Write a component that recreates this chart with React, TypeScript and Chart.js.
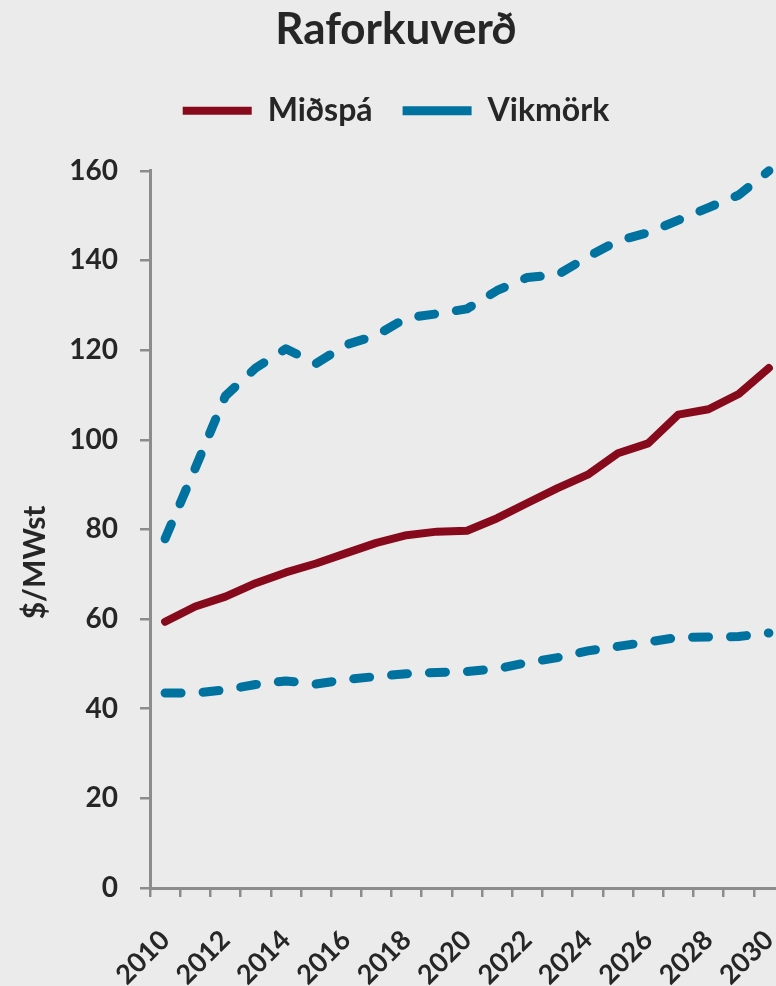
import React, { useEffect, useRef } from 'react';
import { Chart, registerables } from 'chart.js';

Chart.register(...registerables);

const years = ['2010', '2011', '2012', '2013', '2014', '2015', '2016', '2017', '2018', '2019', '2020', '2021', '2022', '2023', '2024', '2025', '2026', '2027', '2028', '2029', '2030'];
const midspa = [59.4, 62.8, 65, 68, 70.4, 72.4, 74.7, 77, 78.7, 79.5, 79.7, 82.5, 85.9, 89.2, 92.2, 97, 99.2, 105.6, 106.8, 110.2, 116];
const vikmorkHigh = [77.9, 93.7, 109.8, 116, 120.3, 117, 121.2, 123.3, 127.2, 128.1, 129.2, 133.3, 136.2, 136.8, 140.8, 144.4, 146.2, 149, 151.8, 154.6, 160];
const vikmorkLow = [43.5, 43.5, 44.2, 45.4, 46.2, 45.5, 46.5, 47.2, 47.8, 48.1, 48.3, 48.9, 50.3, 51.4, 52.9, 53.9, 54.9, 55.9, 56.0, 56.1, 56.9];

const titleText = 'Raforkuverð';
const yTitleText = '$/MWst';
const seriesNames = ['Miðspá', 'Vikmörk'];

const FONT = 'Lato, "Open Sans", sans-serif';
const TEXT = '#262626';
const AXIS = '#8c8c8c';
const RED = '#870a1c';
const BLUE = '#00729f';
const BG = '#ebebeb';

const LEGEND_EXTRA = 34;

const yTitlePlugin = {
  id: 'yTitlePlugin',
  beforeLayout(chart: any) {
    const lg = chart.legend;
    if (lg && !lg._extraPatched) {
      const fit = lg.fit.bind(lg);
      lg.fit = () => {
        fit();
        lg.height += LEGEND_EXTRA;
      };
      lg._extraPatched = true;
    }
  },
  afterDraw(chart: any) {
    const { ctx, chartArea } = chart;
    ctx.save();
    ctx.translate(35, (chartArea.top + chartArea.bottom) / 2 + 33);
    ctx.rotate(-Math.PI / 2);
    ctx.font = `bold 30px ${FONT}`;
    ctx.fillStyle = TEXT;
    ctx.textAlign = 'center';
    ctx.textBaseline = 'middle';
    ctx.fillText(yTitleText, 0, 0);
    ctx.restore();
  },
};

export default function App() {
  const ref = useRef<HTMLCanvasElement | null>(null);

  useEffect(() => {
    if (!ref.current) return;
    const lineBase = {
      pointRadius: 0,
      tension: 0,
      clip: false as const,
      borderCapStyle: 'round' as const,
      borderJoinStyle: 'round' as const,
    };
    const chart = new Chart(ref.current, {
      type: 'line',
      data: {
        labels: years,
        datasets: [
          {
            ...lineBase,
            label: seriesNames[0],
            data: midspa,
            borderColor: RED,
            backgroundColor: RED,
            borderWidth: 8,
          },
          {
            ...lineBase,
            label: seriesNames[1],
            data: vikmorkHigh,
            borderColor: BLUE,
            backgroundColor: BLUE,
            borderWidth: 9,
            borderDash: [16, 22],
          },
          {
            ...lineBase,
            label: seriesNames[1] + ' ',
            data: vikmorkLow,
            borderColor: BLUE,
            backgroundColor: BLUE,
            borderWidth: 9,
            borderDash: [16, 22],
          },
        ],
      },
      options: {
        responsive: false,
        animation: false,
        devicePixelRatio: 1,
        layout: { padding: { left: 0, right: 0, top: 3, bottom: 0 } },
        plugins: {
          title: {
            display: true,
            text: titleText,
            color: TEXT,
            font: { family: FONT, size: 44, weight: 'bold' },
            padding: { top: 0, bottom: 9 },
          },
          legend: {
            display: true,
            labels: {
              usePointStyle: true,
              pointStyle: 'line',
              pointStyleWidth: 69,
              color: TEXT,
              font: { family: FONT, size: 32, weight: 'bold' },
              padding: 30,
              filter: (item: any) => item.datasetIndex !== 2,
            },
          },
          tooltip: { enabled: false },
        },
        scales: {
          x: {
            type: 'category',
            offset: true,
            afterFit: (scale: any) => {
              scale.height = 98;
              scale.paddingLeft = 0;
              scale.paddingRight = 8;
            },
            grid: {
              offset: true,
              drawOnChartArea: false,
              drawTicks: true,
              tickLength: 9,
              color: AXIS,
              lineWidth: 2.5,
            },
            border: { display: true, color: AXIS, width: 3 },
            ticks: {
              autoSkip: false,
              maxRotation: 45,
              minRotation: 45,
              padding: 27,
              color: TEXT,
              font: { family: FONT, size: 27, weight: 'bold' },
              callback: (_v: any, i: number) => (i % 2 === 0 ? years[i] : ''),
            },
          },
          y: {
            min: 0,
            max: 160,
            afterFit: (scale: any) => {
              scale.width = 150;
            },
            grid: {
              drawOnChartArea: false,
              drawTicks: true,
              tickLength: 10,
              color: AXIS,
              lineWidth: 2.5,
            },
            border: { display: true, color: AXIS, width: 3 },
            ticks: {
              stepSize: 20,
              padding: 22,
              color: TEXT,
              font: { family: FONT, size: 28, weight: 'bold' },
            },
          },
        },
      },
      plugins: [yTitlePlugin],
    });
    return () => chart.destroy();
  }, []);

  return (
    <div
      style={{
        position: 'absolute',
        left: 0,
        top: 0,
        width: 776,
        height: 986,
        overflow: 'hidden',
        background: BG,
      }}
    >
      <canvas ref={ref} width={792} height={986} style={{ display: 'block' }} />
    </div>
  );
}
